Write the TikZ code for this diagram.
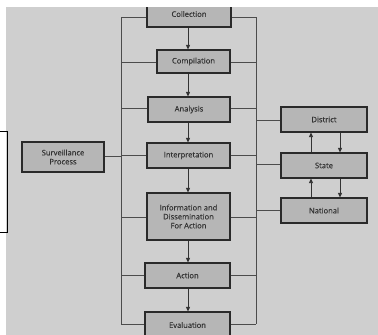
\documentclass[tikz,border=0pt]{standalone}
\usepackage{fontspec}
\setmainfont{Open Sans}
\newfontface\boxfont{Open Sans}[FakeBold=0.35]
\usetikzlibrary{arrows.meta,shadows}
\definecolor{bg}{HTML}{CFCFCF}
\definecolor{boxfill}{HTML}{B6B6B6}
\definecolor{edge}{HTML}{2A2A2A}
\definecolor{txt}{HTML}{333333}
\tikzset{
  procbox/.style={draw=edge, line width=1.1pt, fill=boxfill, inner sep=0pt,
    font=\boxfont\fontsize{7.6}{9}\selectfont, text=txt, align=center,
    drop shadow={shadow xshift=1.2pt, shadow yshift=-1.2pt, fill=black!55, opacity=0.6}},
  bus/.style={draw=black!70, line width=0.7pt},
  flow/.style={draw=black!80, line width=0.8pt, -{Triangle[length=4.5pt,width=4pt]}}
}
\begin{document}
\begin{tikzpicture}[x=1pt,y=-1pt]
\useasboundingbox (0,0) rectangle (378,335);
\fill[bg] (6,7) rectangle (378,335);
% bracket at left
\draw[black, line width=0.8pt] (0,131) -- (7,131) -- (7,232) -- (0,232);
% buses
\coordinate (lt) at (121,17);
\coordinate (lb) at (121,324);
\coordinate (rt) at (256,17);
\coordinate (rb) at (256,324);
\draw[bus] (lt) -- (lb);
\draw[bus] (rt) -- (rb);
% nodes
\node[procbox, minimum width=84pt, minimum height=26pt] (coll) at (189,14) {Collection};
\node[procbox, minimum width=73pt, minimum height=23pt] (comp) at (193.5,61.5) {Compilation};
\node[procbox, minimum width=82pt, minimum height=25pt] (anal) at (189,109.5) {Analysis};
\node[procbox, minimum width=83pt, minimum height=25pt] (interp) at (188.5,155.5) {Interpretation};
\node[procbox, minimum width=83pt, minimum height=47pt] (info) at (188.5,216.5) {Information and\\Dissemination\\For Action};
\node[procbox, minimum width=85pt, minimum height=25pt] (act) at (187.5,275.5) {Action};
\node[procbox, minimum width=85pt, minimum height=26pt] (eval) at (187.5,325) {Evaluation};
\node[procbox, minimum width=86pt, minimum height=25pt] (dist) at (324,119.5) {District};
\node[procbox, minimum width=86pt, minimum height=25pt] (state) at (324,165.5) {State};
\node[procbox, minimum width=86pt, minimum height=25pt] (nat) at (324,210.5) {National};
\node[procbox, minimum width=82pt, minimum height=30pt] (surv) at (63,157) {Surveillance\\Process};
% stubs to buses
\foreach \n/\yy in {coll/17,comp/62,anal/108,interp/155,info/217,act/275,eval/324}{
  \draw[bus] (\n.west |- 0,\yy) -- (121,\yy);
  \draw[bus] (\n.east |- 0,\yy) -- (256,\yy);
}
\draw[bus] (surv.east |- 0,156) -- (121,156);
\draw[bus] (256,120) -- (dist.west |- 0,120);
\draw[bus] (256,164) -- (state.west |- 0,164);
\draw[bus] (256,210) -- (nat.west |- 0,210);
% central flow
\draw[flow] (coll.south -| 188,0) -- (comp.north -| 188,0);
\draw[flow] (comp.south -| 188,0) -- (anal.north -| 188,0);
\draw[flow] (anal.south -| 188,0) -- (interp.north -| 188,0);
\draw[flow] (interp.south -| 188,0) -- (info.north -| 188,0);
\draw[flow] (info.south -| 188,0) -- (act.north -| 188,0);
\draw[flow] (act.south -| 188,0) -- (eval.north -| 188,0);
% right column arrows
\draw[flow] (state.north -| 311,0) -- (dist.south -| 311,0);
\draw[flow] (dist.south -| 340,0) -- (state.north -| 340,0);
\draw[flow] (nat.north -| 311,0) -- (state.south -| 311,0);
\draw[flow] (state.south -| 340,0) -- (nat.north -| 340,0);
% white margin at top covers the cut-off box
\fill[white] (0,0) rectangle (378,7);
\end{tikzpicture}
\end{document}
